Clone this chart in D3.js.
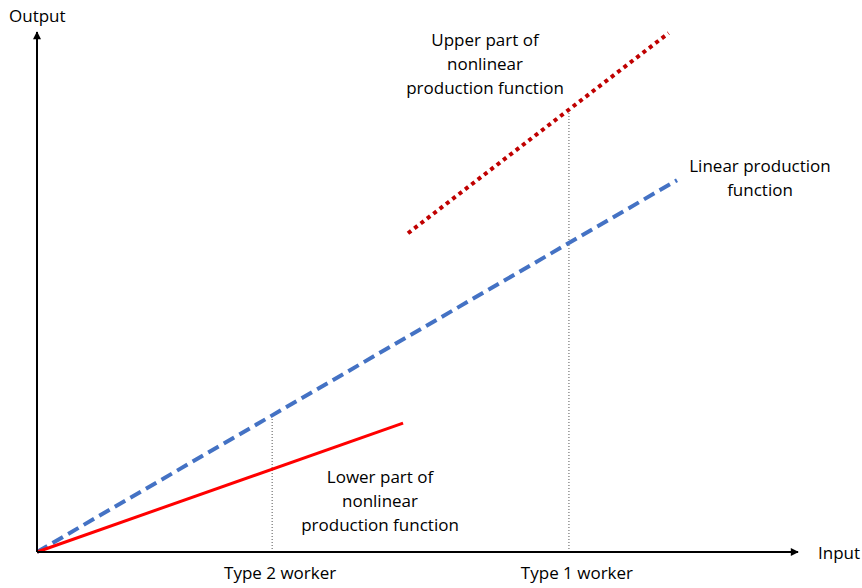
<!DOCTYPE html>
<html>
<head>
<meta charset="utf-8">
<script src="https://cdn.jsdelivr.net/npm/d3@7"></script>
<style>
  html, body { margin: 0; padding: 0; background: #fff; }
  svg { display: block; }
  text { font-family: "Open Sans", "Lato", sans-serif; font-size: 17px; fill: #000; }
</style>
</head>
<body>
<svg id="chart" width="862" height="588"></svg>
<script>
// Production functions (input on x, output on y, arbitrary units)
const linearFn = [[0, 0], [8.41, 7.15]];
const lowerNonlinear = [[0, 0], [4.81, 2.48]];
const upperNonlinear = [[4.875, 6.13], [8.30, 9.98]];

// Worker input levels marked on the x axis
const workers = ["Type 2 worker", "Type 1 worker"];
const workerInput = [3.09, 6.99];

const axisLabels = ["Input", "Output"];
const upperLabel = ["Upper part of", "nonlinear", "production function"];
const linearLabel = ["Linear production", "function"];
const lowerLabel = ["Lower part of", "nonlinear", "production function"];

const svg = d3.select("#chart");
const x = d3.scaleLinear().domain([0, 10]).range([37, 798]);
const y = d3.scaleLinear().domain([0, 10]).range([552, 32]);

const defs = svg.append("defs");
defs.append("marker")
  .attr("id", "arrow")
  .attr("viewBox", "0 0 10 10")
  .attr("refX", 9).attr("refY", 5)
  .attr("markerWidth", 5).attr("markerHeight", 4)
  .attr("markerUnits", "strokeWidth")
  .attr("orient", "auto")
  .append("path").attr("d", "M0,0 L10,5 L0,10 Z").attr("fill", "#000");

// Interpolate a line's output at a given input
function valueAt(seg, xv) {
  const [[x0, y0], [x1, y1]] = seg;
  return y0 + (y1 - y0) * (xv - x0) / (x1 - x0);
}

// Vertical guides from the axis up to the relevant production function
const guideTop = [valueAt(linearFn, workerInput[0]), valueAt(upperNonlinear, workerInput[1])];
svg.selectAll("line.guide").data(workerInput).join("line")
  .attr("class", "guide")
  .attr("x1", d => x(d)).attr("x2", d => x(d))
  .attr("y1", y(0)).attr("y2", (d, i) => y(guideTop[i]))
  .attr("stroke", "#555").attr("stroke-width", 1)
  .attr("stroke-dasharray", "1,2");

const line = d3.line().x(d => x(d[0])).y(d => y(d[1]));

svg.append("path").datum(linearFn)
  .attr("d", line).attr("fill", "none")
  .attr("stroke", "#4472C4").attr("stroke-width", 4)
  .attr("stroke-dasharray", "12,6");

svg.append("path").datum(lowerNonlinear)
  .attr("d", line).attr("fill", "none")
  .attr("stroke", "#FF0000").attr("stroke-width", 3);

svg.append("path").datum(upperNonlinear)
  .attr("d", line).attr("fill", "none")
  .attr("stroke", "#C00000").attr("stroke-width", 4)
  .attr("stroke-dasharray", "4,4");

// Axes with arrowheads
svg.append("line")
  .attr("x1", x(0)).attr("y1", y(0)).attr("x2", x(10)).attr("y2", y(0))
  .attr("stroke", "#000").attr("stroke-width", 2).attr("marker-end", "url(#arrow)");
svg.append("line")
  .attr("x1", x(0)).attr("y1", y(0)).attr("x2", x(0)).attr("y2", y(10))
  .attr("stroke", "#000").attr("stroke-width", 2).attr("marker-end", "url(#arrow)");

svg.append("text").attr("x", 818).attr("y", 559).text(axisLabels[0]);
svg.append("text").attr("x", 9).attr("y", 22).text(axisLabels[1]);

svg.selectAll("text.worker").data(workers).join("text")
  .attr("class", "worker")
  .attr("x", (d, i) => x(workerInput[i]) + 8)
  .attr("y", 579)
  .attr("text-anchor", "middle")
  .text(d => d);

function block(lines, cx, top) {
  svg.append("g").selectAll("text").data(lines).join("text")
    .attr("x", cx).attr("y", (d, i) => top + i * 24)
    .attr("text-anchor", "middle")
    .text(d => d);
}
block(upperLabel, 485, 46);
block(linearLabel, 760, 172);
block(lowerLabel, 380, 483);
</script>
</body>
</html>
